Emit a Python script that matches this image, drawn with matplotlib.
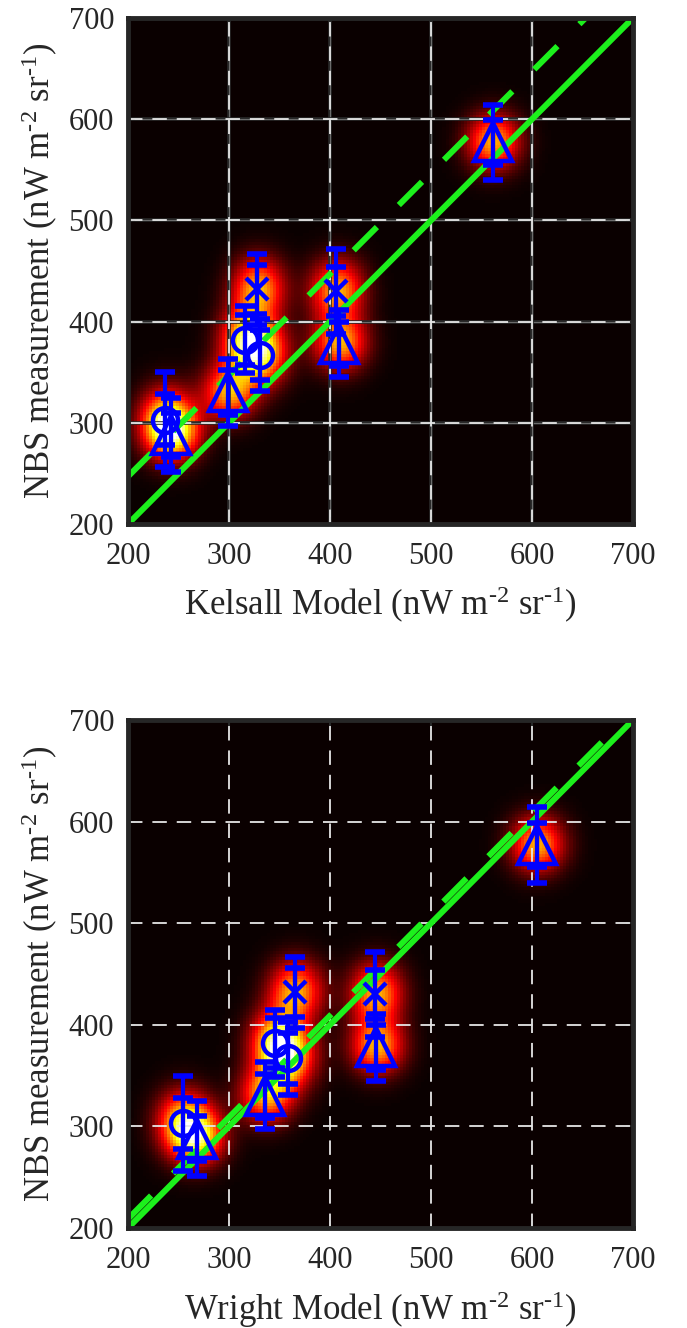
import numpy as np
import matplotlib
matplotlib.use("Agg")
import matplotlib.pyplot as plt

plt.rcParams['font.family'] = ['Liberation Serif', 'DejaVu Serif']
plt.rcParams['mathtext.fontset'] = 'custom'
plt.rcParams['mathtext.rm'] = 'Liberation Serif'
plt.rcParams['mathtext.it'] = 'Liberation Serif:italic'

# ---- data ----
markers = ['o', '^', 'o', 'o', 'x', '^', 'x', '^', '^']
nbs = [303, 288, 382, 367, 432, 330, 430, 378, 577]
kelsall = [237, 243, 316, 331, 328, 299, 406, 409, 561]
wright = [254, 268, 346, 358, 365, 336, 445, 446, 605]
err_in = [25, 22, 25, 25, 24, 22, 24, 22, 22]
err_out = [47, 37, 33, 36, 35, 33, 42, 33, 37]

fit_offset_kelsall = 47
fit_offset_wright = 9

ticks = [200, 300, 400, 500, 600, 700]
unit = r' (nW m$^{\text{-2}}$ sr$^{\text{-1}}$)'

BLUE = '#0000ff'
GREEN = '#1cf01c'
FRAME = '#262626'


def heat(xs, ys, eys):
    g = np.arange(200, 701, 3.0)
    X, Y = np.meshgrid(g, g)
    Z = np.zeros_like(X)
    for x, y, e in zip(xs, ys, eys):
        sy = 0.85 * e
        Z += np.exp(-((X - x) ** 2) / (2 * 18.0 ** 2) - ((Y - y) ** 2) / (2 * sy ** 2))
    return Z


def panel(ax, model, fit_off, xlabel, dark_grid):
    Z = heat(model, nbs, err_in)
    ax.imshow(Z, cmap='hot', vmin=0, vmax=1.6, origin='lower',
              extent=[200, 700, 200, 700], interpolation='nearest',
              aspect='auto', zorder=0)

    for t in ticks[1:-1]:
        if dark_grid:
            ax.axvline(t, color='#2a2a2a', lw=2.6, zorder=1)
            ax.axhline(t, color='#2a2a2a', lw=2.6, zorder=1)
            ax.axvline(t, color='#7a7a7a', lw=0.6, zorder=1)
            ax.axhline(t, color='#7a7a7a', lw=0.6, zorder=1)
        ax.axvline(t, color='#e6e6e6', lw=1.3, dashes=(8, 5.5), zorder=2)
        ax.axhline(t, color='#e6e6e6', lw=1.3, dashes=(8, 5.5), zorder=2)

    xx = np.array([200, 700])
    ax.plot(xx, xx, color=GREEN, lw=4.3, zorder=3, solid_capstyle='butt')
    ax.plot(xx, xx + fit_off, color=GREEN, lw=4.3, dashes=(5.5, 5.2),
            dash_capstyle='butt', zorder=3)

    for x, y, ei, eo, m in zip(model, nbs, err_in, err_out, markers):
        ax.errorbar(x, y, yerr=eo, fmt='none', ecolor=BLUE, elinewidth=3,
                    capsize=7, capthick=4, zorder=4)
        ax.errorbar(x, y, yerr=ei, fmt='none', ecolor=BLUE, elinewidth=3,
                    capsize=7, capthick=4, zorder=4)
        ms = {'o': 18, '^': 27, 'x': 16}[m]
        ax.plot(x, y, marker=m, ms=ms, mfc='none', mec=BLUE, mew=3.2,
                ls='none', zorder=5)

    ax.set_xlim(200, 700)
    ax.set_ylim(200, 700)
    ax.set_xticks(ticks)
    ax.set_yticks(ticks)
    ax.tick_params(direction='in', length=5, width=1.5, color=FRAME,
                   labelsize=22, labelcolor=FRAME, top=True, right=True)
    ax.tick_params(axis='x', pad=13)
    ax.tick_params(axis='y', pad=10)
    for s in ax.spines.values():
        s.set_linewidth(3.5)
        s.set_color(FRAME)
        s.set_zorder(6)
    ax.set_xlabel(xlabel + unit, fontsize=25, color=FRAME, labelpad=10)
    ax.set_ylabel('NBS measurement' + unit, fontsize=25, color=FRAME,
                  labelpad=6)


fig = plt.figure(figsize=(6.87, 13.28), dpi=100)
ax1 = fig.add_axes([128 / 687, 1 - 524 / 1328, 505 / 687, 506 / 1328])
ax2 = fig.add_axes([128 / 687, 1 - 1228 / 1328, 505 / 687, 508 / 1328])

panel(ax1, kelsall, fit_offset_kelsall, 'Kelsall Model', True)
panel(ax2, wright, fit_offset_wright, 'Wright Model', False)

fig.savefig('out.png', dpi=100)
